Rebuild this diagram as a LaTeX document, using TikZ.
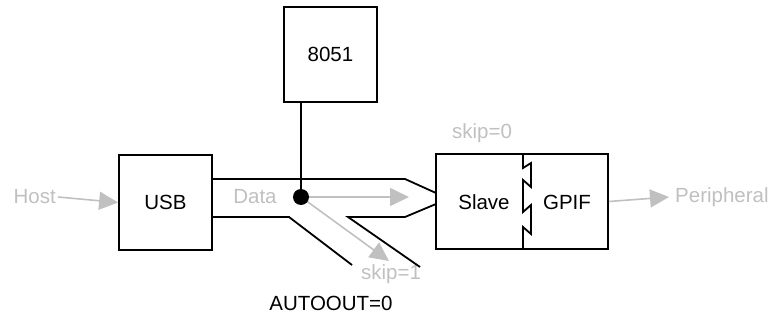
\documentclass[tikz,border=0pt]{standalone}
\usepackage{fontspec}
\setmainfont{Liberation Sans}
\usetikzlibrary{arrows.meta}
\definecolor{lgray}{RGB}{192,192,192}
\begin{document}
\begin{tikzpicture}[x=1pt,y=-1pt,
  blk/.style={draw=black,line width=1.8pt,minimum width=93pt,minimum height=95pt,inner sep=0pt,font=\fontsize{20.5}{24}\selectfont},
  wire/.style={draw=black,line width=1.8pt},
  garrow/.style={draw=lgray,line width=1.6pt,-{Triangle[length=19pt,width=18pt]}},
  glabel/.style={text=lgray,inner sep=0pt,font=\fontsize{20.5}{24}\selectfont},
  blabel/.style={text=black,inner sep=0pt,font=\fontsize{20.5}{24}\selectfont}]
\useasboundingbox (0,0) rectangle (772,326);
% boxes
\node[blk] (n8051) at (330.5,54.5) {8051};
\node[blk] (usb) at (165.5,202.5) {USB};
\node[blk,minimum width=172pt] (sg) at (522,201.5) {};
\node[blabel] (slave) at (484,202) {Slave};
\node[blabel] (gpif) at (567,202) {GPIF};
% zigzag divider
\draw[wire,line join=miter] (523,154.5) -- (523,168) -- (531,163) -- (531,187) -- (523,180) -- (523,212) -- (531,205) -- (531,234) -- (523,227) -- (523,249);
% labels
\node[glabel,anchor=east] (host) at (56,197) {Host};
\node[glabel,anchor=west] (periph) at (675,197) {Peripheral};
\node[glabel] (data) at (255,197) {Data};
\node[glabel] (skip0) at (482,133) {skip=0};
\node[glabel] (skip1) at (391,274) {skip=1};
\node[blabel] (autoout) at (331,303) {AUTOOUT=0};
% channel
\coordinate (t1) at (212,179);
\coordinate (t2) at (405,179);
\coordinate (t3) at (436,193);
\coordinate (b1) at (212,217);
\coordinate (b2) at (289,217);
\coordinate (b3) at (352,265);
\coordinate (c1) at (420,267);
\coordinate (c2) at (348,217);
\coordinate (c3) at (405,217);
\coordinate (c4) at (436,204);
\draw[wire] (t1) -- (t2) -- (t3);
\draw[wire] (b1) -- (b2) -- (b3);
\draw[wire] (c1) -- (c2) -- (c3) -- (c4);
% junction
\coordinate (dot) at (301,197);
\coordinate (dataend) at (409,197);
\coordinate (skipend) at (389,261);
\draw[wire] (n8051.south -| dot) -- (dot);
\draw[garrow] (dot) -- (dataend);
\draw[garrow] (dot) -- (skipend);
\fill[black] (dot) circle (8pt);
% host / peripheral arrows
\draw[garrow] (host.east) ++(2,0) -- (usb.west);
\draw[garrow] (sg.east) -- (periph.west -| 669,0);
\end{tikzpicture}
\end{document}
